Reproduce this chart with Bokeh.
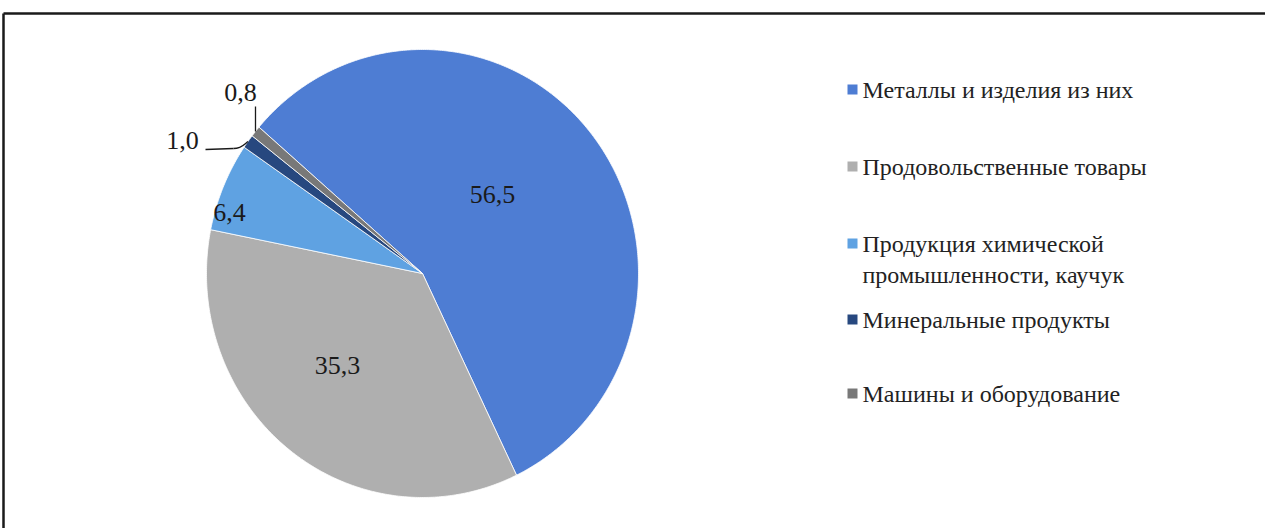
import numpy as np
from bokeh.plotting import figure
from bokeh.models import Range1d, ColumnDataSource
from bokeh.core.properties import value
from bokeh.embed import file_html
from bokeh.resources import INLINE

# ---- data ----
categories = ["Металлы и изделия из них", "Продовольственные товары",
              "Продукция химической промышленности,  каучук",
              "Минеральные продукты", "Машины и оборудование"]
legend_lines = [["Металлы и изделия  из них"], ["Продовольственные товары"],
                ["Продукция химической", "промышленности,  каучук"],
                ["Минеральные продукты"], ["Машины и  оборудование"]]
shares = [56.5, 35.3, 6.4, 1.0, 0.8]
labels = ["56,5", "35,3", "6,4", "1,0", "0,8"]
colors = ["#4E7DD3", "#AFAFAF", "#5FA2E2", "#27487F", "#787878"]

# ---- layout (pixels, y downward) ----
W, H = 1265, 528
cx, cy, rx, ry = 422, 273, 216, 224
start_deg = 310.8  # first slice start, clockwise from 12 o'clock
label_pos = [(492, 194), (337, 365), (229, 212), (182, 140), (240, 92)]
legend_y = [[89], [166], [243, 274], [319], [393]]
legend_x = 852
FONT = value("'Liberation Serif', 'Times New Roman', serif")

p = figure(width=W, height=H, x_range=Range1d(0, W), y_range=Range1d(H, 0),
           output_backend="svg", toolbar_location=None, min_border=0,
           x_axis_location=None, y_axis_location=None)
p.grid.visible = False
p.outline_line_color = None
p.background_fill_color = "white"
p.border_fill_color = "white"

def pt(theta_deg, f=1.0):
    t = np.deg2rad(theta_deg)
    return cx + f * rx * np.sin(t), cy - f * ry * np.cos(t)

total = sum(shares)
xs, ys, mids = [], [], []
a = start_deg
for s in shares:
    span = 360.0 * s / total
    th = np.linspace(a, a + span, max(int(span * 2), 4))
    px, py = pt(th)
    xs.append([cx] + list(px))
    ys.append([cy] + list(py))
    mids.append(a + span / 2)
    a += span

p.patches(xs=xs, ys=ys, fill_color=colors, line_color="white", line_width=0.8)

# data labels
src = ColumnDataSource(dict(x=[q[0] for q in label_pos], y=[q[1] for q in label_pos], t=labels))
p.text(x="x", y="y", text="t", source=src, text_align="center", text_baseline="middle",
       text_font=FONT, text_font_size="26px", text_color="#1a1a1a")

# leader lines for small slices
ox, oy = pt(mids[3], 1.0)
p.line([205, 233], [149, 148], line_color="#1a1a1a", line_width=1.3)
p.bezier(x0=[233], y0=[148], x1=[ox], y1=[oy], cx0=[241], cy0=[148], cx1=[ox - 4], cy1=[oy + 3],
         line_color="#1a1a1a", line_width=1.3)
ox8, oy8 = pt(mids[4], 1.0)
p.line([ox8, ox8], [oy8, 106], line_color="#1a1a1a", line_width=1.3)

# legend
for i, (lines, ylist) in enumerate(zip(legend_lines, legend_y)):
    p.rect(x=[legend_x], y=[ylist[0]], width=10, height=10, fill_color=colors[i], line_color=None)
    p.text(x=[legend_x + 10] * len(lines), y=ylist, text=lines, text_align="left",
           text_baseline="middle", text_font=FONT,
           text_font_size="24px", text_color="#222222")

# frame (top and left edges visible)
p.line([3, W], [13, 13], line_color="#1a1a1a", line_width=2.5)
p.line([3, 3], [13, H], line_color="#1a1a1a", line_width=2.5)

open("out.html", "w").write(file_html(p, INLINE))
